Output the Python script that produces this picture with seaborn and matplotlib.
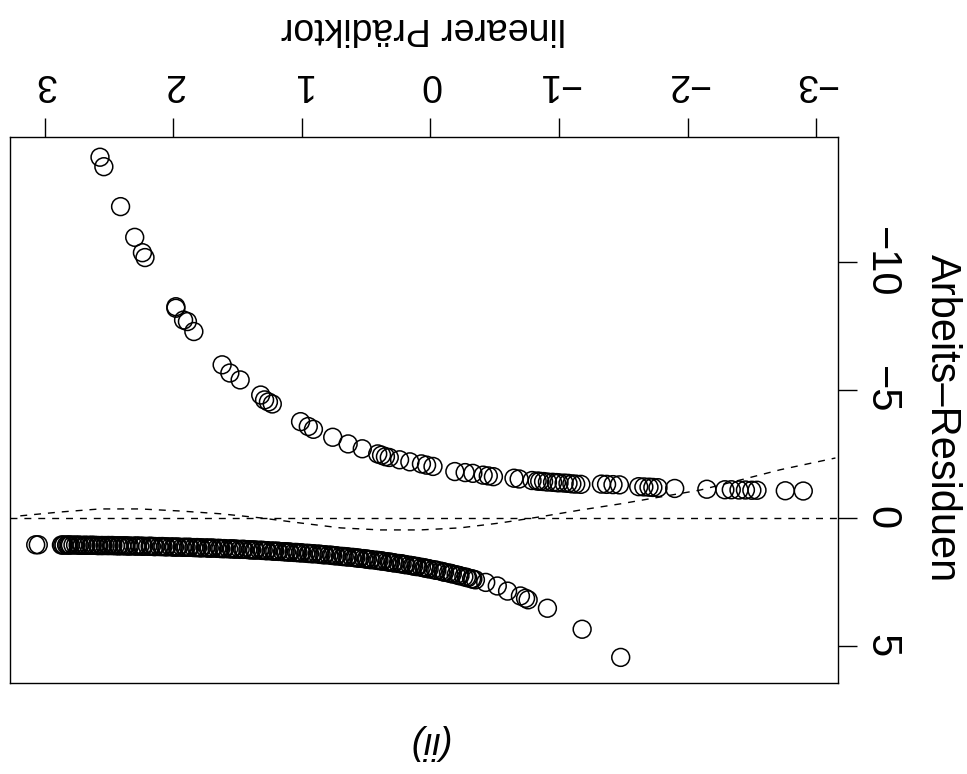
import matplotlib
matplotlib.use("Agg")
import matplotlib.pyplot as plt
import seaborn as sns
import pandas as pd

# ---- data (linear predictor vs working residuals) ----
upper_eta = [2.57, 2.54, 2.41, 2.30, 2.24, 2.22, 1.98, 1.98, 1.92, 1.89, 1.84,
             1.62, 1.56, 1.48, 1.32, 1.29, 1.26, 1.23, 1.01, 0.95, 0.91, 0.76,
             0.64, 0.53, 0.41, 0.38, 0.35, 0.32, 0.24, 0.16, 0.07, 0.03, -0.02,
             -0.19, -0.27, -0.33, -0.41, -0.45, -0.49, -0.65, -0.69, -0.79,
             -0.83, -0.85, -0.88, -0.91, -0.95, -0.98, -1.00, -1.04, -1.07,
             -1.10, -1.13, -1.17, -1.33, -1.37, -1.42, -1.47, -1.62, -1.66,
             -1.70, -1.73, -1.77, -1.90, -2.15, -2.29, -2.34, -2.40, -2.45,
             -2.50, -2.54, -2.76, -2.90]
upper_res = [-14.09, -13.72, -12.16, -10.96, -10.36, -10.17, -8.25, -8.19,
             -7.73, -7.67, -7.28, -5.98, -5.66, -5.39, -4.80, -4.61, -4.53,
             -4.45, -3.76, -3.57, -3.46, -3.15, -2.89, -2.70, -2.50, -2.45,
             -2.39, -2.36, -2.27, -2.19, -2.11, -2.06, -2.01, -1.81, -1.77,
             -1.74, -1.67, -1.64, -1.61, -1.55, -1.52, -1.46, -1.44, -1.43,
             -1.42, -1.40, -1.39, -1.38, -1.37, -1.36, -1.35, -1.33, -1.32,
             -1.31, -1.32, -1.31, -1.30, -1.29, -1.22, -1.21, -1.20, -1.19,
             -1.18, -1.15, -1.12, -1.10, -1.10, -1.09, -1.09, -1.08, -1.08,
             -1.06, -1.05]

lower_eta = [3.07, 3.05, 2.87, 2.85, 2.83, 2.81, 2.78, 2.76, 2.73, 2.71, 2.68,
             2.66, 2.63, 2.61, 2.58, 2.55, 2.53, 2.50, 2.47, 2.45, 2.42, 2.40,
             2.37, 2.34, 2.31, 2.28, 2.26, 2.23, 2.20, 2.17, 2.14, 2.11, 2.08,
             2.05, 2.02, 1.99, 1.96, 1.93, 1.90, 1.87, 1.84, 1.81, 1.78, 1.75,
             1.72, 1.69, 1.66, 1.63, 1.60, 1.57, 1.54, 1.51, 1.48, 1.45, 1.42,
             1.39, 1.36, 1.33, 1.30, 1.27, 1.24, 1.21, 1.18, 1.15, 1.12, 1.09,
             1.06, 1.03, 1.00, 0.97, 0.94, 0.91, 0.88, 0.85, 0.82, 0.79, 0.76,
             0.73, 0.70, 0.67, 0.64, 0.61, 0.58, 0.55, 0.52, 0.49, 0.46, 0.43,
             0.40, 0.37, 0.34, 0.31, 0.28, 0.25, 0.22, 0.19, 0.16, 0.13, 0.10,
             0.07, 0.04, 0.01, -0.02, -0.05, -0.08, -0.11, -0.14, -0.17, -0.20,
             -0.23, -0.26, -0.29, -0.32, -0.35, -0.43, -0.52, -0.60, -0.70,
             -0.74, -0.76, -0.91, -1.18, -1.48]
lower_res = [1.05, 1.05, 1.06, 1.06, 1.06, 1.06, 1.06, 1.06, 1.07, 1.07, 1.07,
             1.07, 1.07, 1.07, 1.08, 1.08, 1.08, 1.08, 1.08, 1.09, 1.09, 1.09,
             1.09, 1.10, 1.10, 1.10, 1.10, 1.11, 1.11, 1.11, 1.12, 1.12, 1.12,
             1.13, 1.13, 1.14, 1.14, 1.15, 1.15, 1.15, 1.16, 1.16, 1.17, 1.17,
             1.18, 1.18, 1.19, 1.20, 1.20, 1.21, 1.21, 1.22, 1.23, 1.23, 1.24,
             1.25, 1.26, 1.26, 1.27, 1.28, 1.29, 1.30, 1.31, 1.32, 1.33, 1.34,
             1.35, 1.36, 1.37, 1.38, 1.39, 1.40, 1.41, 1.43, 1.44, 1.45, 1.47,
             1.48, 1.50, 1.51, 1.53, 1.54, 1.56, 1.58, 1.59, 1.61, 1.63, 1.65,
             1.67, 1.69, 1.71, 1.73, 1.76, 1.78, 1.80, 1.83, 1.85, 1.88, 1.90,
             1.93, 1.96, 1.99, 2.02, 2.05, 2.08, 2.12, 2.15, 2.19, 2.22, 2.26,
             2.30, 2.34, 2.38, 2.42, 2.52, 2.66, 2.86, 3.05, 3.14, 3.20, 3.53,
             4.35, 5.45]

# further points inside the dense lower band
lower2_eta = [2.86, 2.82, 2.80, 2.74, 2.69, 2.64, 2.59, 2.56, 2.51, 2.48,
              2.43, 2.38, 2.35, 2.29, 2.24, 2.18, 2.15, 2.09, 2.06, 2.00,
              1.97, 1.91, 1.88, 1.82, 1.79, 1.73, 1.70, 1.64, 1.61, 1.55,
              1.52, 1.46, 1.40, 1.37, 1.31, 1.28, 1.22, 1.19, 1.13, 1.10,
              1.04, 1.01, 0.95, 0.92, 0.86, 0.83, 0.77, 0.74, 0.68, 0.65,
              0.59, 0.56, 0.50, 0.47, 0.41, 0.38, 0.32, 0.29, 0.23, 0.20,
              0.14, 0.11, 0.05, 0.02, -0.04, -0.10, -0.16, -0.22, -0.28, -0.33]
lower2_res = [1.06, 1.06, 1.06, 1.06, 1.07, 1.07, 1.08, 1.08, 1.08, 1.08,
              1.09, 1.09, 1.10, 1.10, 1.11, 1.11, 1.12, 1.12, 1.13, 1.14,
              1.14, 1.15, 1.15, 1.16, 1.17, 1.18, 1.18, 1.19, 1.20, 1.21,
              1.22, 1.23, 1.25, 1.25, 1.27, 1.28, 1.30, 1.30, 1.32, 1.33,
              1.35, 1.36, 1.39, 1.40, 1.42, 1.44, 1.46, 1.48, 1.51, 1.52,
              1.55, 1.57, 1.61, 1.63, 1.66, 1.68, 1.73, 1.75, 1.79, 1.82,
              1.87, 1.90, 1.95, 1.98, 2.04, 2.11, 2.17, 2.25, 2.32, 2.39]

smooth_eta = [3.19, 2.88, 2.57, 2.26, 1.95, 1.63, 1.32, 1.01, 0.70, 0.39,
              0.08, -0.23, -0.54, -0.85, -1.17, -1.48, -1.79, -2.10, -2.41,
              -2.72, -3.15]
smooth_res = [-0.08, -0.23, -0.35, -0.35, -0.27, -0.16, 0.00, 0.20, 0.39,
              0.47, 0.47, 0.39, 0.20, -0.04, -0.31, -0.55, -0.82, -1.09,
              -1.48, -1.88, -2.34]

x_ticks = [-3, -2, -1, 0, 1, 2, 3]
x_ticklabels = ["\u22123", "\u22122", "\u22121", "0", "1", "2", "3"]
y_ticks = [-10, -5, 0, 5]
y_ticklabels = ["\u221210", "\u22125", "0", "5"]

x_label = "linearer Prädiktor"
y_label = "Arbeits\u2013Residuen"
title = "(ii)"

# ---- drawing ----
sns.set_theme(style="white")
plt.rcParams["font.family"] = ["Liberation Sans", "DejaVu Sans"]

W, H = 967, 774
FS = 27
FSY = 30
fig = plt.figure(figsize=(W / 100, H / 100), dpi=100)
ax = fig.add_axes([10 / W, 1 - 683 / H, 828 / W, 546 / H])

pts = pd.DataFrame({"eta": upper_eta + lower_eta + lower2_eta,
                    "res": upper_res + lower_res + lower2_res})
sns.scatterplot(data=pts, x="eta", y="res", ax=ax, s=165, marker="o",
                linewidth=1.1, legend=False, zorder=3)
coll = ax.collections[-1]
coll.set_facecolor("none")
coll.set_edgecolor("black")

ax.axhline(0, color="black", lw=1.0, ls=(0, (5, 5)), zorder=2)
sm = pd.DataFrame({"eta": smooth_eta, "res": smooth_res})
sns.lineplot(data=sm, x="eta", y="res", ax=ax, color="black", lw=1.0,
             sort=False, estimator=None, zorder=2)
ax.lines[-1].set_linestyle((0, (5, 5)))

ax.set_xlim(3.27, -3.17)
ax.set_ylim(6.45, -14.88)
ax.set_xlabel("")
ax.set_ylabel("")

for sp in ax.spines.values():
    sp.set_visible(True)
    sp.set_color("black")
    sp.set_linewidth(1.0)

ax.set_xticks(x_ticks)
ax.set_xticklabels(x_ticklabels)
ax.set_yticks(y_ticks)
ax.set_yticklabels(y_ticklabels)
ax.xaxis.tick_top()
ax.yaxis.tick_right()
ax.tick_params(axis="x", top=True, bottom=False, labeltop=True,
               labelbottom=False, direction="out", length=13.5, width=1.0,
               color="black", pad=12, labelsize=FS, labelrotation=180,
               labelcolor="black")
ax.tick_params(axis="y", right=True, left=False, labelright=True,
               labelleft=False, direction="out", length=13.5, width=1.0,
               color="black", pad=3, labelsize=FSY, labelrotation=270,
               labelcolor="black")
for t in ax.get_yticklabels():
    t.set_va("center")

fig.text(424 / W, 1 - 28 / H, x_label, rotation=180, ha="center",
         va="center", fontsize=FS, color="black")
fig.text(942 / W, 1 - 418 / H, y_label, rotation=270, ha="center",
         va="center", fontsize=FSY, color="black")
fig.text(428 / W, 1 - 742 / H, title, rotation=180, ha="center",
         va="center", fontsize=FS, style="italic", color="black")

fig.savefig("out.png", dpi=100)
